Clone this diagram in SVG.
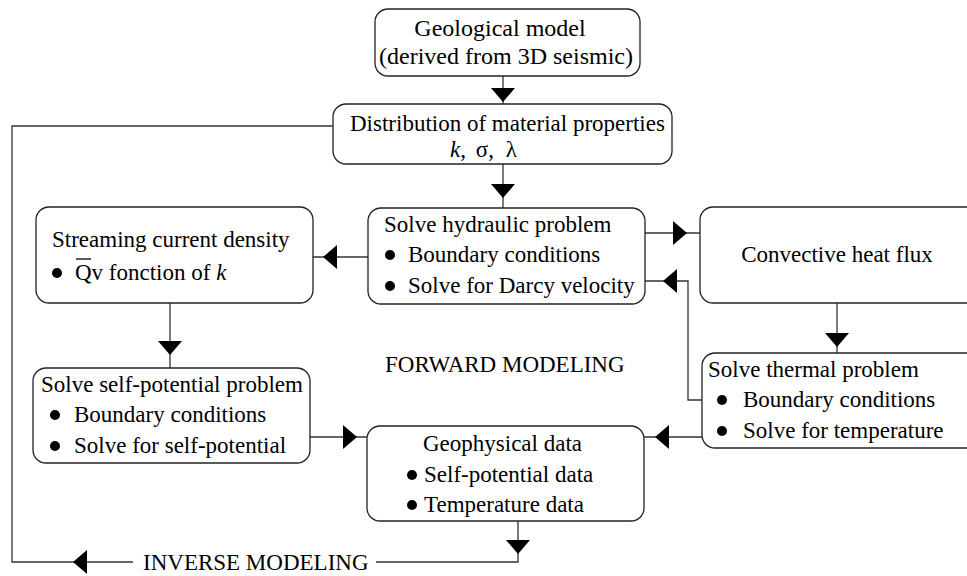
<svg xmlns="http://www.w3.org/2000/svg" xmlns:xlink="http://www.w3.org/1999/xlink" width="967" height="576" viewBox="0 0 967 576">
<style>
  text { font-family: "Liberation Serif", "Times New Roman", serif; font-size: 23px; fill: #000; }
  .big { font-size: 24px; }
  .it { font-style: italic; }
  .box { fill: #fff; stroke: #222; stroke-width: 1.3; }
  .ln { fill: none; stroke: #333; stroke-width: 1.3; }
  .ah { fill: #000; stroke: none; }
  .bul { fill: #000; }
</style>
<defs>
  <path id="ah" class="ah" d="M0,0 L-14,-12 L-14,12 Z"/>
</defs>
<rect width="967" height="576" fill="#fff"/>

<g id="connectors">
  <path class="ln" d="M503,76 V104"/>
  <path class="ln" d="M503,164 V208"/>
  <path class="ln" d="M368,257 H313"/>
  <path class="ln" d="M645,233 H700"/>
  <path class="ln" d="M702,400 H688 V281 H645"/>
  <path class="ln" d="M837,303 V353"/>
  <path class="ln" d="M702,437 H644"/>
  <path class="ln" d="M170,303 V368"/>
  <path class="ln" d="M310,437 H367"/>
  <path class="ln" d="M518,521 V562 H376"/>
  <path class="ln" d="M133,562 H12 V126 H333"/>
  <use xlink:href="#ah" transform="translate(503,102) rotate(90)"/>
  <use xlink:href="#ah" transform="translate(503,198) rotate(90)"/>
  <use xlink:href="#ah" transform="translate(323,257) rotate(180)"/>
  <use xlink:href="#ah" transform="translate(687,233)"/>
  <use xlink:href="#ah" transform="translate(663,281) rotate(180)"/>
  <use xlink:href="#ah" transform="translate(837,347) rotate(90)"/>
  <use xlink:href="#ah" transform="translate(655,437) rotate(180)"/>
  <use xlink:href="#ah" transform="translate(170,355) rotate(90)"/>
  <use xlink:href="#ah" transform="translate(357,437)"/>
  <use xlink:href="#ah" transform="translate(518,554) rotate(90)"/>
  <use xlink:href="#ah" transform="translate(73,562) rotate(180)"/>
</g>

<g id="geological-model">
  <rect class="box" x="375" y="9" width="265" height="67" rx="13"/>
  <text class="big" x="500" y="36" text-anchor="middle">Geological model</text>
  <text class="big" x="506" y="64" text-anchor="middle">(derived from 3D seismic)</text>
</g>

<g id="material-properties">
  <rect class="box" x="333" y="104" width="339" height="60" rx="13"/>
  <text x="350" y="131">Distribution of material properties</text>
  <text x="450" y="157"><tspan class="it">k</tspan>, <tspan dx="4">σ</tspan>, <tspan dx="6">λ</tspan></text>
</g>

<g id="streaming-current">
  <rect class="box" x="36" y="207" width="277" height="96" rx="13"/>
  <text x="52" y="247">Streaming current density</text>
  <circle class="bul" cx="57" cy="273" r="5"/>
  <line x1="76" y1="259" x2="91" y2="259" stroke="#000" stroke-width="1.3"/>
  <text x="75" y="280">Qv fonction of <tspan class="it">k</tspan></text>
</g>

<g id="hydraulic-problem">
  <rect class="box" x="368" y="208" width="277" height="96" rx="13"/>
  <text x="384" y="232">Solve hydraulic problem</text>
  <circle class="bul" cx="390" cy="255" r="5"/>
  <text x="408" y="262">Boundary conditions</text>
  <circle class="bul" cx="390" cy="286" r="5"/>
  <text x="408" y="293">Solve for Darcy velocity</text>
</g>

<g id="convective-heat-flux">
  <rect class="box" x="700" y="207" width="280" height="96" rx="13"/>
  <text x="837" y="262" text-anchor="middle">Convective heat flux</text>
</g>

<g id="thermal-problem">
  <rect class="box" x="702" y="353" width="280" height="95" rx="13"/>
  <text x="708" y="377">Solve thermal problem</text>
  <circle class="bul" cx="722" cy="400" r="5"/>
  <text x="743" y="407">Boundary conditions</text>
  <circle class="bul" cx="722" cy="431" r="5"/>
  <text x="743" y="438">Solve for temperature</text>
</g>

<g id="self-potential-problem">
  <rect class="box" x="33" y="368" width="277" height="95" rx="13"/>
  <text x="41" y="392">Solve self-potential problem</text>
  <circle class="bul" cx="55" cy="415" r="5"/>
  <text x="74" y="422">Boundary conditions</text>
  <circle class="bul" cx="55" cy="446" r="5"/>
  <text x="74" y="453">Solve for self-potential</text>
</g>

<g id="geophysical-data">
  <rect class="box" x="367" y="426" width="277" height="95" rx="13"/>
  <text x="423" y="451">Geophysical data</text>
  <circle class="bul" cx="412" cy="475" r="5"/>
  <text x="424" y="482">Self-potential data</text>
  <circle class="bul" cx="412" cy="505" r="5"/>
  <text x="424" y="512">Temperature data</text>
</g>

<g id="labels">
  <text x="385" y="372">FORWARD MODELING</text>
  <text x="143" y="570">INVERSE MODELING</text>
</g>
</svg>
